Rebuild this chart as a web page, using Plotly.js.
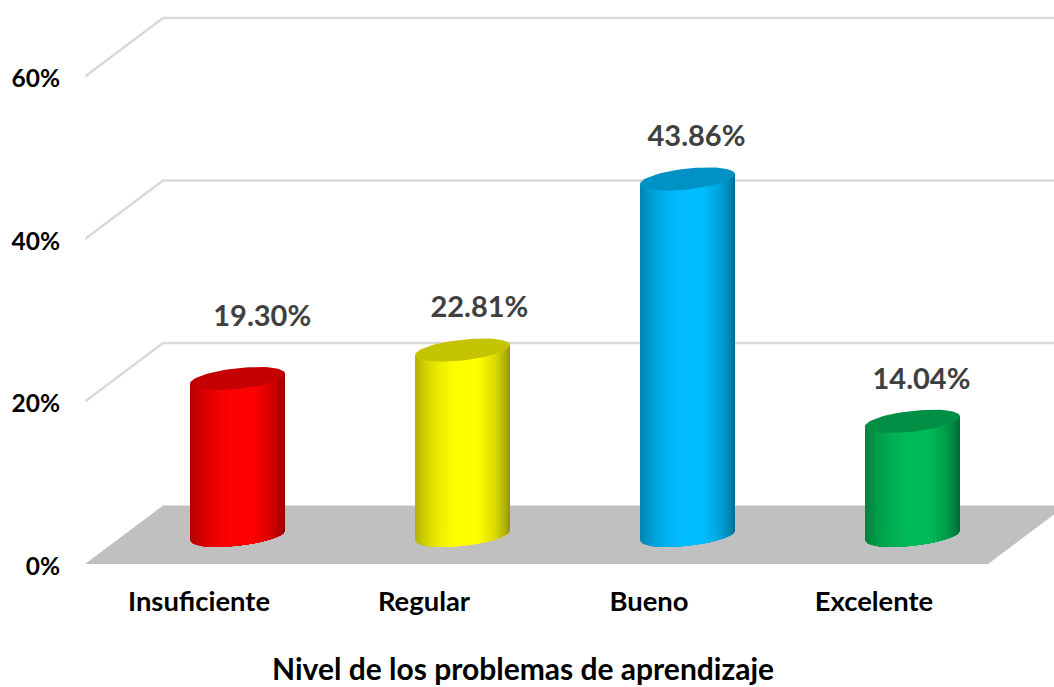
<!DOCTYPE html>
<html>
<head>
<meta charset="utf-8">
<script src="https://cdn.plot.ly/plotly-3.0.0.min.js"></script>
<style>html,body{margin:0;padding:0;background:#fff}</style>
</head>
<body>
<div id="chart" style="width:1054px;height:687px"></div>
<script>
const categories = ["Insuficiente", "Regular", "Bueno", "Excelente"];
const values = [19.30, 22.81, 43.86, 14.04];
const valueLabels = ["19.30%", "22.81%", "43.86%", "14.04%"];
const bodyColors = [[255, 0, 0], [255, 255, 0], [0, 189, 255], [0, 186, 88]];
const yTicks = [0, 20, 40, 60];
const axisTitle = "Nivel de los problemas de aprendizaje";
const labelDx = [0.11, 0.075, 0.04, 0.04];
const labelDy = [7.3, 5.0, 4.9, 4.9];

const FONT = "Lato, Carlito, sans-serif";
const depthX = 0.347, depthY = 7.2;       // full depth of the 3D box
const cylDx = 0.171, cylDy = 3.53;        // cylinder axis position in depth
const halfW = 0.211, ellB = 1.28, ellK = 0.62;
const leftX = -0.5067, rightX = 3.8, topY = 69.42;

const rgb = (c, f) => `rgb(${c.map(v => Math.round(v * f)).join(",")})`;
const shadeStops = [[0, 0.70], [0.13, 0.84], [0.28, 0.94], [0.44, 1], [0.66, 1], [0.84, 0.86], [0.95, 0.69], [1, 0.57]];
function shade(u) {
  for (let i = 1; i < shadeStops.length; i++) {
    if (u <= shadeStops[i][0]) {
      const [a, fa] = shadeStops[i - 1], [b, fb] = shadeStops[i];
      return fa + (fb - fa) * (u - a) / (b - a);
    }
  }
  return 0.57;
}

const traces = [];
const skip = { hoverinfo: "skip", showlegend: false };

// floor
traces.push(Object.assign({
  type: "scatter", mode: "lines", fill: "toself", fillcolor: "#C0C0C0",
  line: { width: 0, color: "#C0C0C0" },
  x: [leftX, leftX + depthX, 3.507 + depthX, 3.507, leftX],
  y: [0, depthY, depthY, 0, 0]
}, skip));

// gridlines on the side and back walls
yTicks.filter(v => v > 0).forEach(v => {
  traces.push(Object.assign({
    type: "scatter", mode: "lines",
    line: { width: 2.5, color: "#D9D9D9" },
    x: [leftX, leftX + depthX, rightX],
    y: [v, v + depthY, v + depthY]
  }, skip));
});

// cylinders
const STRIPS = 48;
categories.forEach((cat, i) => {
  const cx = i + cylDx, base = cylDy, top = cylDy + values[i], col = bodyColors[i];
  for (let s = 0; s < STRIPS; s++) {
    const xs = [], ys = [];
    const u0 = -1 + 2 * s / STRIPS;
    xs.push(cx + halfW * u0); ys.push(top + ellK * u0);
    xs.push(cx + halfW); ys.push(top + ellK);
    for (let j = STRIPS; j >= s; j--) {
      const u = -1 + 2 * j / STRIPS;
      xs.push(cx + halfW * u);
      ys.push(base + ellK * u - ellB * Math.sqrt(Math.max(0, 1 - u * u)));
    }
    traces.push(Object.assign({
      type: "scatter", mode: "lines", fill: "toself",
      fillcolor: rgb(col, shade((s + 0.5) / STRIPS)),
      line: { width: 0 }, x: xs, y: ys, name: cat
    }, skip));
  }
  const tx = [], ty = [];
  for (let d = 0; d <= 360; d += 5) {
    const t = d * Math.PI / 180;
    tx.push(cx + halfW * Math.cos(t));
    ty.push(top + ellK * Math.cos(t) + ellB * Math.sin(t));
  }
  traces.push(Object.assign({
    type: "scatter", mode: "lines", fill: "toself",
    fillcolor: rgb(col, 0.77), line: { width: 0 }, x: tx, y: ty, name: cat
  }, skip));
});

// value labels
traces.push(Object.assign({
  type: "scatter", mode: "text",
  x: values.map((v, i) => i + cylDx + labelDx[i]),
  y: values.map((v, i) => cylDy + v + labelDy[i]),
  text: valueLabels, textposition: "middle center",
  textfont: { family: FONT, size: 29, color: "#404040", weight: 700 }
}, skip));

const layout = {
  width: 1054, height: 687,
  margin: { l: 85, r: 0, t: 0, b: 123, pad: 0 },
  paper_bgcolor: "#fff", plot_bgcolor: "#fff",
  showlegend: false,
  xaxis: {
    range: [leftX, rightX], showgrid: false, zeroline: false, showline: false,
    tickmode: "array", tickvals: categories.map((c, i) => i), ticktext: categories,
    ticks: "", ticklabelstandoff: 19,
    tickfont: { family: FONT, size: 27.4, color: "#000", weight: 700 }
  },
  yaxis: {
    range: [0, topY], showgrid: false, zeroline: false, showline: false,
    tickmode: "array", tickvals: yTicks, ticktext: yTicks.map(v => v + "%"),
    ticks: "", ticklabelstandoff: 24, ticklabelshift: 2,
    tickfont: { family: FONT, size: 24.5, color: "#000", weight: 700 }
  },
  annotations: [{
    text: axisTitle, xref: "paper", yref: "paper", showarrow: false,
    x: (523 - 85) / 969, y: -(668 - 564) / 564, xanchor: "center", yanchor: "middle",
    font: { family: FONT, size: 30, color: "#000", weight: 700 }
  }]
};
Plotly.newPlot("chart", traces, layout, { displayModeBar: false, staticPlot: true });
</script>
</body>
</html>
